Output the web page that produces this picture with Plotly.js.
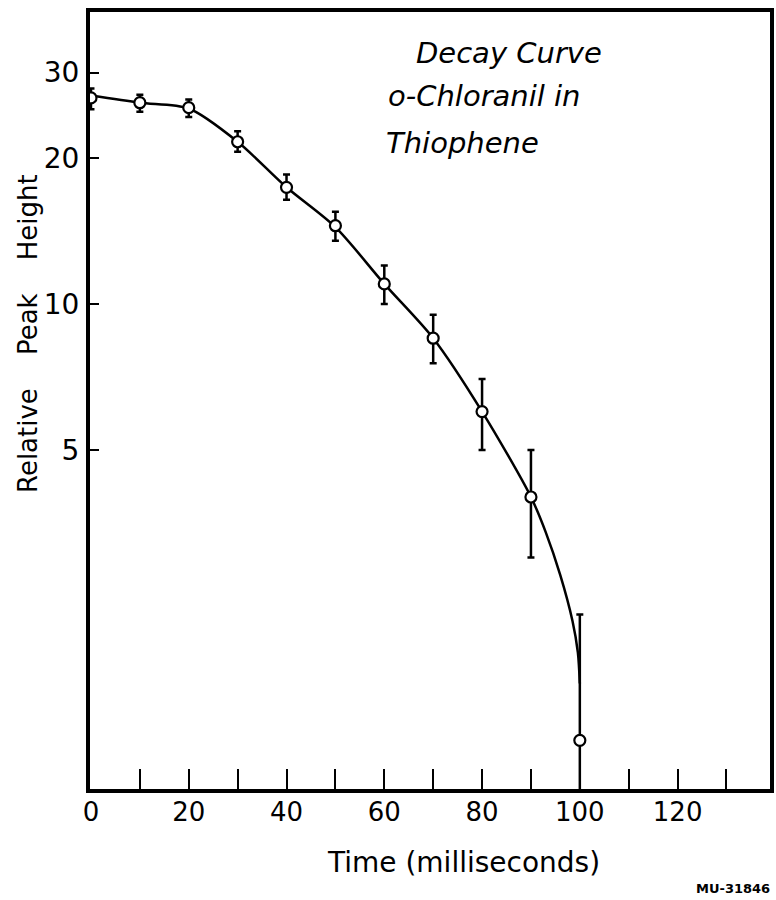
<!DOCTYPE html>
<html>
<head>
<meta charset="utf-8">
<script src="https://cdn.plot.ly/plotly-3.0.1.min.js"></script>
<style>html,body{margin:0;padding:0;background:#fff;}#chart{width:776px;height:900px;}</style>
</head>
<body>
<div id="chart"></div>
<script>
// Measured points (time in ms, relative peak height) with error bars
const timeMs = [0, 10, 20, 30, 40, 50, 60, 70, 80, 90, 100];
const peakHeight = [26.6, 26.0, 25.4, 21.6, 17.4, 14.5, 11.0, 8.5, 6.0, 4.0, 1.26];
const errPlus = [1.2, 1.0, 1.0, 1.1, 1.1, 1.0, 1.0, 1.0, 1.0, 1.0, 1.03];
const errMinus = [1.4, 1.1, 1.1, 1.0, 1.0, 1.0, 1.0, 0.95, 1.0, 1.0, 1.0];

// Hand-drawn decay curve
const curveTime = [0, 10, 20, 30, 40, 50, 60, 70, 80, 90, 93, 96, 98.5, 99.6, 100];
const curveHeight = [26.9, 26.0, 25.3, 21.6, 17.4, 14.4, 11.0, 8.5, 6.0, 4.0, 3.39, 2.76, 2.22, 1.91, 1.65];

// Axis ticks
const xTickVals = [0, 10, 20, 30, 40, 50, 60, 70, 80, 90, 100, 110, 120, 130];
const xTickText = ['0', '', '20', '', '40', '', '60', '', '80', '', '100', '', '120', ''];
const yTickVals = [5, 10, 20, 30];
const yTickText = ['5', '10', '20', '30'];

const titleLines = ['Decay Curve', 'o-Chloranil in', 'Thiophene'];
const xTitle = 'Time (milliseconds)';
const yTitle = 'Relative\u00a0\u00a0\u00a0\u00a0Peak\u00a0\u00a0\u00a0\u00a0Height';
const figureId = 'MU-31846';

const FONT = 'DejaVu Sans, Liberation Sans, sans-serif';

const curve = {
  x: curveTime, y: curveHeight, type: 'scatter', mode: 'lines',
  line: {color: '#000', width: 2.5, shape: 'spline', smoothing: 0.8},
  hoverinfo: 'skip', showlegend: false
};
const points = {
  x: timeMs, y: peakHeight, type: 'scatter', mode: 'markers',
  marker: {symbol: 'circle', size: 11, color: '#fff', line: {color: '#000', width: 2.2}},
  error_y: {type: 'data', symmetric: false, array: errPlus, arrayminus: errMinus,
            color: '#000', thickness: 2.5, width: 3.5},
  showlegend: false
};

const W = 680, H = 777, L = 90, T = 12;
const px = X => (X - L) / W;
const py = Y => (T + H - Y) / H;

const layout = {
  width: 776, height: 900,
  margin: {l: L, r: 6, t: T, b: 111},
  paper_bgcolor: '#fff', plot_bgcolor: '#fff',
  font: {family: FONT, color: '#000'},
  showlegend: false,
  xaxis: {
    range: [-0.2, 138.9], showgrid: false, zeroline: false,
    showline: true, mirror: true, linecolor: '#000', linewidth: 4,
    tickmode: 'array', tickvals: xTickVals, ticktext: xTickText,
    ticks: 'inside', ticklen: 20, tickwidth: 2, tickcolor: '#000',
    tickfont: {family: FONT, size: 26, color: '#000'},
    ticklabelstandoff: -3
  },
  yaxis: {
    type: 'log', range: [0, 1.602], showgrid: false, zeroline: false,
    showline: true, mirror: true, linecolor: '#000', linewidth: 4,
    tickmode: 'array', tickvals: yTickVals, ticktext: yTickText,
    ticks: 'inside', ticklen: 9, tickwidth: 2, tickcolor: '#000',
    tickfont: {family: FONT, size: 28, color: '#000'},
    ticklabelstandoff: 1
  },
  annotations: [
    {xref: 'paper', yref: 'paper', x: px(463), y: py(862), xanchor: 'center', yanchor: 'middle',
     text: xTitle, showarrow: false, font: {family: FONT, size: 28, color: '#000'}},
    {xref: 'paper', yref: 'paper', x: px(28), y: py(334), xanchor: 'center', yanchor: 'middle',
     textangle: -90, text: yTitle, showarrow: false, font: {family: FONT, size: 26, color: '#000'}},
    {xref: 'paper', yref: 'paper', x: px(772), y: py(888), xanchor: 'right', yanchor: 'middle',
     text: figureId, showarrow: false, font: {family: FONT, size: 13, color: '#000', weight: 'bold'}},
    {xref: 'paper', yref: 'paper', x: px(414), y: py(53), xanchor: 'left', yanchor: 'middle',
     text: titleLines[0], showarrow: false, font: {family: FONT, size: 29, style: 'italic', color: '#000'}},
    {xref: 'paper', yref: 'paper', x: px(386), y: py(96), xanchor: 'left', yanchor: 'middle',
     text: titleLines[1], showarrow: false, font: {family: FONT, size: 29, style: 'italic', color: '#000'}},
    {xref: 'paper', yref: 'paper', x: px(384), y: py(143), xanchor: 'left', yanchor: 'middle',
     text: titleLines[2], showarrow: false, font: {family: FONT, size: 29, style: 'italic', color: '#000'}}
  ]
};

Plotly.newPlot('chart', [curve, points], layout, {displayModeBar: false, staticPlot: true});
</script>
</body>
</html>
